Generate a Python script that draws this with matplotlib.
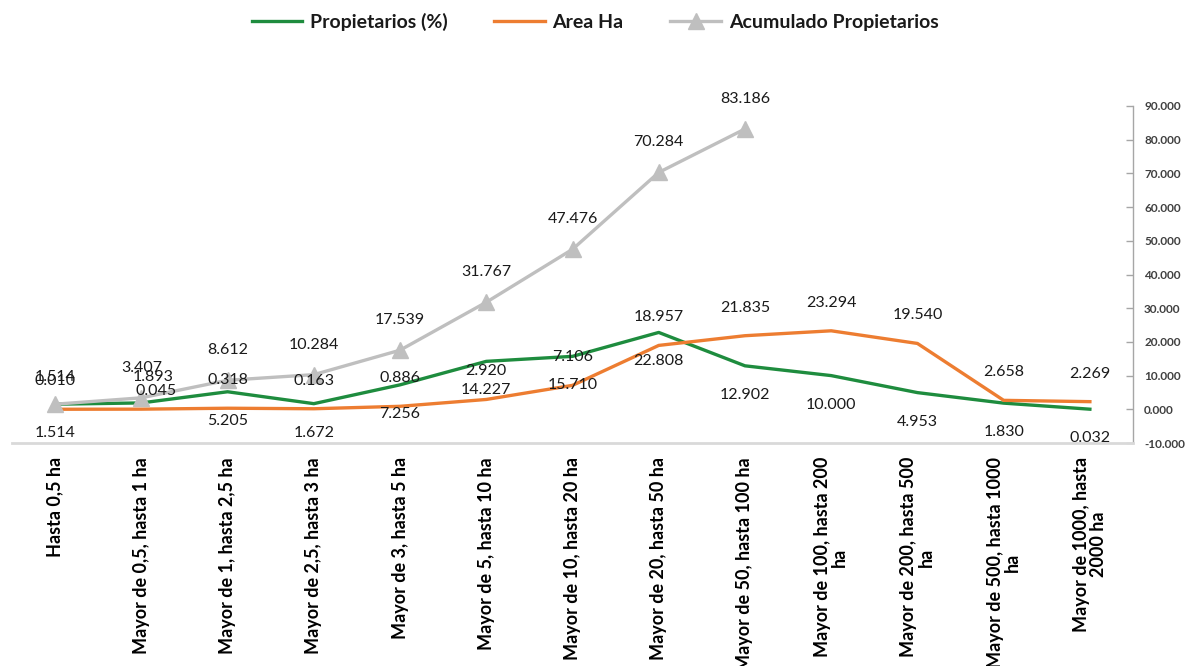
import matplotlib
matplotlib.use("Agg")
import matplotlib.pyplot as plt
from matplotlib.ticker import FuncFormatter

categories = [
    "Hasta 0,5 ha",
    "Mayor de 0,5, hasta 1 ha",
    "Mayor de 1, hasta 2,5 ha",
    "Mayor de 2,5, hasta 3 ha",
    "Mayor de 3, hasta 5 ha",
    "Mayor de 5, hasta 10 ha",
    "Mayor de 10, hasta 20 ha",
    "Mayor de 20, hasta 50 ha",
    "Mayor de 50, hasta 100 ha",
    "Mayor de 100, hasta 200\nha",
    "Mayor de 200, hasta 500\nha",
    "Mayor de 500, hasta 1000\nha",
    "Mayor de 1000, hasta\n2000 ha",
]
propietarios = [1.514, 1.893, 5.205, 1.672, 7.256, 14.227, 15.710, 22.808,
                12.902, 10.000, 4.953, 1.830, 0.032]
area_ha = [0.010, 0.045, 0.318, 0.163, 0.886, 2.920, 7.106, 18.957,
           21.835, 23.294, 19.540, 2.658, 2.269]
acumulado = [1.514, 3.407, 8.612, 10.284, 17.539, 31.767, 47.476, 70.284, 83.186]
y_ticks = [-10, 0, 10, 20, 30, 40, 50, 60, 70, 80, 90]

GREEN = "#1E8C3E"
ORANGE = "#ED7D31"
GRAY = "#BFBFBF"
TXT = "#1A1A1A"
FONT = ["Lato", "DejaVu Sans"]
plt.rcParams["font.family"] = FONT

fig = plt.figure(figsize=(11.9, 6.66), dpi=100)
ax = fig.add_axes([12 / 1190, 1 - 443 / 666, (1133 - 12) / 1190, (443 - 106) / 666])

x = list(range(len(categories)))
xa = list(range(len(acumulado)))

l1, = ax.plot(x, propietarios, color=GREEN, lw=2.4, solid_joinstyle="round", zorder=3,
              label="Propietarios (%)")
l2, = ax.plot(x, area_ha, color=ORANGE, lw=2.4, solid_joinstyle="round", zorder=3,
              label="Area Ha")
l3, = ax.plot(xa, acumulado, color=GRAY, lw=2.4, marker="^", markersize=11,
              markeredgecolor=GRAY, markerfacecolor=GRAY, zorder=4,
              label="Acumulado Propietarios")

# label offsets (pixels); a few labels were moved by hand in the original
green_off = {i: (0, -29) for i in x}
green_off[1] = (12, 26)
orange_off = {i: (0, 28) for i in x}
orange_off[1] = (15, 18)
gray_off = {i: (0, 30) for i in xa}
gray_off[0] = (0, 27)

fmt = lambda v: f"{v:.3f}"
lab_kw = dict(textcoords="offset pixels", ha="center", va="center",
              fontsize=11.5, color=TXT, zorder=6)
for xi, v in zip(x, propietarios):
    ax.annotate(fmt(v), (xi, v), xytext=green_off[xi], **lab_kw)
for xi, v in zip(x, area_ha):
    ax.annotate(fmt(v), (xi, v), xytext=orange_off[xi], **lab_kw)
for xi, v in zip(xa, acumulado):
    ax.annotate(fmt(v), (xi, v), xytext=gray_off[xi], **lab_kw)

ax.set_xlim(-0.5, len(categories) - 0.5)
ax.set_ylim(-10, 90)
ax.set_yticks(y_ticks)
ax.yaxis.tick_right()
ax.yaxis.set_major_formatter(FuncFormatter(lambda v, p: f"{v:.3f}"))
ax.tick_params(axis="y", direction="in", length=5, color="#A6A6A6", width=1,
               labelsize=8.5, labelcolor="#404040", pad=8)
for t in ax.get_yticklabels():
    t.set_fontweight("bold")

ax.set_xticks(x)
ax.set_xticklabels(categories, rotation=90, fontsize=13, fontweight="bold",
                   color="black", ha="center", va="top", multialignment="center",
                   linespacing=1.0)
ax.tick_params(axis="x", length=0, pad=10)

for s in ["left", "top"]:
    ax.spines[s].set_visible(False)
ax.spines["right"].set_color("#A6A6A6")
ax.spines["right"].set_linewidth(1)
ax.spines["bottom"].set_color("#D9D9D9")
ax.spines["bottom"].set_linewidth(2)

fig.legend(handles=[l1, l2, l3], loc="center", bbox_to_anchor=(0.5, 1 - 22 / 666),
           ncol=3, frameon=False, prop={"family": FONT, "weight": "bold", "size": 14},
           handlelength=2.6, handletextpad=0.4, columnspacing=2.4, labelcolor=TXT)

fig.savefig("out.png", dpi=100)
